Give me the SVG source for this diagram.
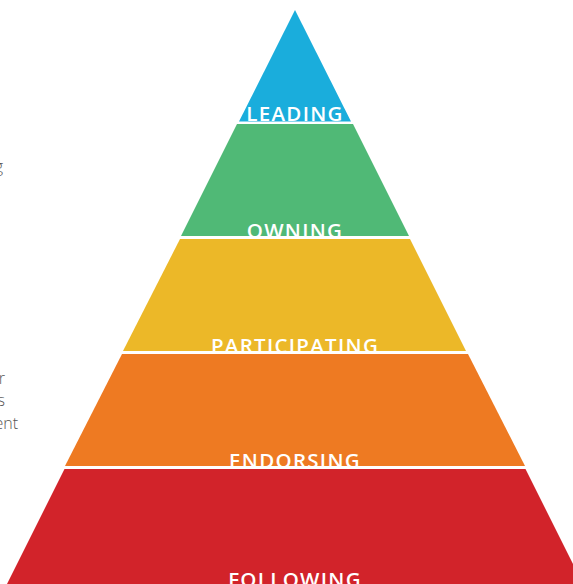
<svg xmlns="http://www.w3.org/2000/svg" width="573" height="584" viewBox="0 0 573 584">
<style>
.lbl{font-family:"Open Sans","Liberation Sans",sans-serif;font-weight:600;font-size:20.5px;fill:#fff;text-anchor:middle;letter-spacing:1.3px}
.side{font-family:"Open Sans","Liberation Sans",sans-serif;font-weight:300;font-size:16px;fill:#555;text-anchor:end}
</style>
<rect width="573" height="584" fill="#fff"/>
<g id="side-text">
<text class="side" x="3" y="172">g</text>
<text class="side" x="5" y="384">r</text>
<text class="side" x="5" y="406">s</text>
<text class="side" x="18" y="429">ent</text>
</g>
<g id="following">
<polygon points="64.5,469 525.5,469 583,584 7,584" fill="#D2232A"/>
<text class="lbl" x="295" y="587">FOLLOWING</text>
</g>
<g id="endorsing">
<polygon points="122,354 468,354 525,466 65,466" fill="#EE7A22"/>
<text class="lbl" x="295" y="468">ENDORSING</text>
</g>
<g id="participating">
<polygon points="180,239 410,239 466,351 123,351" fill="#ECB828"/>
<text class="lbl" x="295" y="353">PARTICIPATING</text>
</g>
<g id="owning">
<polygon points="237,124 353,124 409,236 181,236" fill="#50B976"/>
<text class="lbl" x="295" y="238">OWNING</text>
</g>
<g id="leading">
<polygon points="295,10 351,121.5 239,121.5" fill="#1AADDC"/>
<text class="lbl" x="295" y="120.5">LEADING</text>
</g>
<g id="connectors"/>
</svg>
